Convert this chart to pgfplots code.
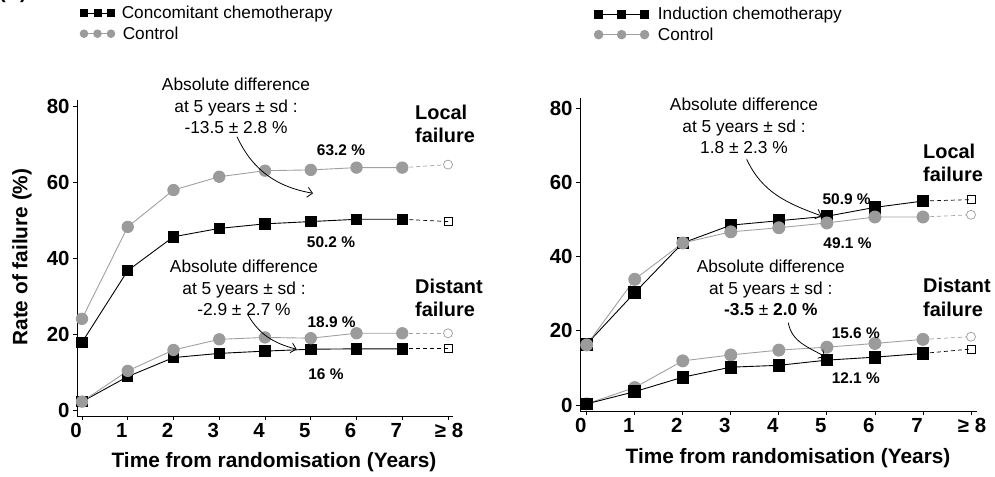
\documentclass[border=0pt]{standalone}
\usepackage{pgfplots}
\pgfplotsset{compat=1.18}
\usepackage{fontspec}
\setmainfont{Liberation Sans}
\usetikzlibrary{arrows.meta}
\definecolor{ctrl}{RGB}{155,155,155}
\definecolor{ctrlline}{RGB}{160,160,160}
\pgfplotsset{
  base/.style={
    scale only axis, clip=false,
    axis x line*=bottom, axis y line*=left,
    xtick={0,...,8},
    xticklabels={0,1,2,3,4,5,6,7,{\hspace*{14bp}≥ 8}},
    ytick={0,20,40,60,80},
    tick align=outside, major tick length=4bp,
    tick style={black, line width=0.8pt},
    axis line style={black, line width=0.8pt},
    /pgf/number format/assume math mode=true,
    ticklabel style={font=\fontsize{20.5}{21}\selectfont\bfseries},
    xticklabel style={xshift=-6bp},
    xlabel style={font=\fontsize{20.9}{22}\selectfont\bfseries, anchor=center},
    ylabel style={font=\fontsize{20.9}{22}\selectfont\bfseries, anchor=center},
    legend style={draw=none, fill=none, font=\fontsize{17.3}{19}\selectfont,
      anchor=north west, row sep=2.5bp, cells={anchor=west}},
  },
  trt/.style={black, line width=0.9pt, mark=square*, mark options={solid, fill=black}},
  ctl/.style={ctrlline, line width=0.9pt, mark=*, mark options={solid, fill=ctrl, draw=ctrl}},
  trtd/.style={black, line width=0.7pt, dash pattern=on 4bp off 3bp, mark=square, mark indices={2},
    mark size=4bp, mark options={solid, fill=white, line width=0.7pt}},
  ctld/.style={ctrlline, line width=0.7pt, dash pattern=on 4bp off 3bp, mark=*, mark indices={2},
    mark size=4.5bp, mark options={solid, fill=white, draw=ctrl, line width=0.7pt}},
}
\begin{document}
\begin{tikzpicture}
\useasboundingbox (0bp,0bp) rectangle (995bp,477bp);

% ---------------- Left panel ----------------
\begin{axis}[base, at={(77bp,61bp)}, anchor=south west, width=376bp, height=316bp,
  xmin=-0.109, xmax=8.109, ymin=-1.58, ymax=81.6,
  xlabel={Time from randomisation (Years)},
  xlabel style={at={(axis description cs:0.524,-0.145)}},
  ylabel={Rate of failure (\%)},
  ylabel style={at={(axis description cs:-0.146,0.503)}},
  legend style={at={(axis description cs:0.0,1.31)}},
  legend image code/.code={\draw[#1, mark repeat=1] plot coordinates {(0bp,0bp) (13.5bp,0bp) (27bp,0bp)};},
]
\addplot[trt, mark size=5.2bp, legend image post style={mark size=3.5bp}] coordinates
  {(0,17.8)(1,36.7)(2,45.6)(3,47.8)(4,49.0)(5,49.6)(6,50.2)(7,50.2)};
\addlegendentry{\hspace*{5bp}Concomitant chemotherapy}
\addplot[ctl, mark size=5.7bp, legend image post style={mark size=3.8bp}] coordinates
  {(0,24.0)(1,48.2)(2,57.9)(3,61.4)(4,63.0)(5,63.2)(6,63.8)(7,63.8)};
\addlegendentry{\hspace*{6bp}Control}
\addplot[trtd, forget plot] coordinates {(7,50.2)(8,49.6)};
\addplot[ctld, forget plot] coordinates {(7,63.8)(8,64.6)};
\addplot[trtd, forget plot] coordinates {(7,16.1)(8,16.1)};
\addplot[ctld, forget plot] coordinates {(7,20.2)(8,20.2)};
\addplot[trt, mark size=5.2bp, forget plot] coordinates
  {(0,2.2)(1,8.8)(2,13.8)(3,14.9)(4,15.5)(5,16.0)(6,16.1)(7,16.1)};
\addplot[ctl, mark size=5.7bp, forget plot] coordinates
  {(0,2.2)(1,10.3)(2,15.8)(3,18.6)(4,19.1)(5,18.9)(6,20.2)(7,20.2)};
\end{axis}

% ---------------- Right panel ----------------
\begin{axis}[base, at={(580bp,66bp)}, anchor=south west, width=397bp, height=313bp,
  xmin=-0.139, xmax=8.125, ymin=-1.62, ymax=82.8,
  xlabel={Time from randomisation (Years)},
  xlabel style={at={(axis description cs:0.524,-0.150)}},
  legend style={at={(axis description cs:0.028,1.3035)}},
  legend image code/.code={\draw[#1, mark repeat=1] plot coordinates {(0bp,0bp) (23bp,0bp) (46bp,0bp)};},
]
\addplot[trt, mark size=5.8bp, legend image post style={mark size=4bp}] coordinates
  {(0,16.4)(1,30.3)(2,43.7)(3,48.5)(4,49.7)(5,50.9)(6,53.3)(7,55.0)};
\addlegendentry{\hspace*{7bp}Induction chemotherapy}
\addplot[ctl, mark size=6bp, legend image post style={mark size=4.3bp}] coordinates
  {(0,16.2)(1,33.9)(2,43.7)(3,46.7)(4,47.8)(5,49.1)(6,50.7)(7,50.7)};
\addlegendentry{\hspace*{7bp}Control}
\addplot[trtd, forget plot] coordinates {(7,55.0)(8,55.4)};
\addplot[ctld, forget plot] coordinates {(7,50.7)(8,51.3)};
\addplot[trtd, forget plot] coordinates {(7,13.9)(8,15.1)};
\addplot[ctld, forget plot] coordinates {(7,17.7)(8,18.4)};
\addplot[ctl, mark size=6bp, forget plot] coordinates
  {(0,0.3)(1,4.7)(2,11.9)(3,13.5)(4,14.8)(5,15.6)(6,16.6)(7,17.7)};
\addplot[trt, mark size=5.8bp, forget plot] coordinates
  {(0,0.3)(1,3.6)(2,7.5)(3,10.2)(4,10.7)(5,12.1)(6,12.9)(7,13.9)};
\end{axis}

% ---------------- Annotations ----------------
\begin{scope}[x=1bp, y=1bp]
\tikzset{ann/.style={align=center, font=\fontsize{17.4}{21.5}\selectfont, inner sep=0pt},
  pct/.style={font=\fontsize{15.5}{17}\selectfont\bfseries, inner sep=0pt},
  lab/.style={align=left, anchor=west, font=\fontsize{20}{23.5}\selectfont\bfseries, inner sep=0pt},
  arr/.style={line width=0.8pt, -{Straight Barb[length=5bp, width=10bp]}}}
\node[anchor=base west, font=\fontsize{20}{22}\selectfont\bfseries, inner sep=0pt] at (-1,478.5) {(A)};
% left
\node[ann] at (236,371) {Absolute difference\\at 5 years ± sd :\\-13.5 ± 2.8 \%};
\node[ann] at (244,189) {Absolute difference\\at 5 years ± sd :\\-2.9 ± 2.7 \%};
\node[lab] at (415,353) {Local\\failure};
\node[lab] at (415,179) {Distant\\failure};
\node[pct] at (341,327) {63.2 \%};
\node[pct] at (331,235.3) {50.2 \%};
\node[pct] at (331.7,155.3) {18.9 \%};
\node[pct] at (326,103) {16 \%};
\draw[arr] (237,340.3) to[out=-65, in=170] (313,283.7);
\draw[arr] (248,162) to[out=-60, in=165] (296.7,127.7);
% right
\node[ann] at (744,351) {Absolute difference\\at 5 years ± sd :\\1.8 ± 2.3 \%};
\node[ann] at (770.8,189) {Absolute difference\\at 5 years ± sd :\\{\bfseries -3.5} ± {\bfseries 2.0 \%}};
\node[lab] at (923,314) {Local\\failure};
\node[lab] at (923,179.5) {Distant\\failure};
\node[pct] at (846.7,277.7) {50.9 \%};
\node[pct] at (847.5,234.3) {49.1 \%};
\node[pct] at (855.8,143.7) {15.6 \%};
\node[pct] at (855.8,98.7) {12.1 \%};
\draw[arr] (746.7,317.7) to[out=-65, in=160] (821.7,261);
\draw[arr] (788.3,154.3) to[out=-80, in=150] (825,120.3);
\end{scope}
\end{tikzpicture}
\end{document}
